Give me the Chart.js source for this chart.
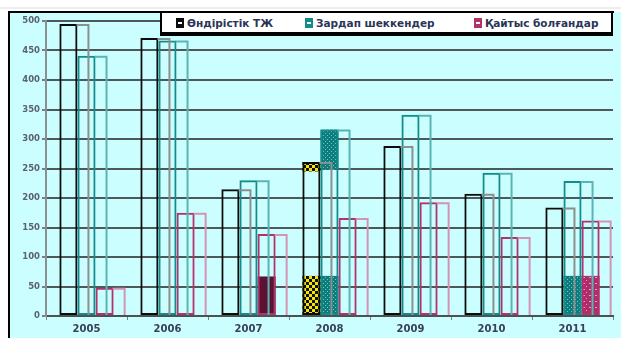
<!DOCTYPE html>
<html>
<head>
<meta charset="utf-8">
<script src="https://cdn.jsdelivr.net/npm/chart.js@4/dist/chart.umd.min.js"></script>
<style>
  html, body { margin: 0; padding: 0; background: #ffffff; }
  #wrap { position: relative; width: 621px; height: 338px; overflow: hidden; }
  canvas { position: absolute; left: 0; top: 0; }
  #legend { position: absolute; left: 160px; top: 11px; width: 449px; height: 19px;
    background: #ffffff; border: 2px solid #000; border-bottom-width: 4px; }
  .item { position: absolute; top: 3px; height: 14px; white-space: nowrap;
    font-family: "DejaVu Sans", sans-serif; font-weight: bold; font-size: 10.5px; line-height: 14px; color: #2a3558; }
  .mark { position: absolute; top: 2px; width: 8px; height: 10px; }
  .mark::after { content: ""; position: absolute; left: 2px; top: 4px; width: 4px; height: 2px; background: #fff; }
</style>
</head>
<body>
<div id="wrap">
  <canvas id="c" width="621" height="338"></canvas>
  <div id="legend"></div>
</div>
<script>
// ---- data ----
const categories = ["2005", "2006", "2007", "2008", "2009", "2010", "2011"];
const seriesNames = ["Өндірістік ТЖ", "Зардап шеккендер", "Қайтыс болғандар"];
const industrial = [495, 471, 215, 261, 288, 207, 184];   // Өндірістік ТЖ
const injured    = [441, 467, 230, 316, 341, 243, 229];   // Зардап шеккендер
const deaths     = [48, 175, 139, 166, 193, 134, 162];    // Қайтыс болғандар
// small filled (patterned) fragments visible in the picture, [from, to]
const fillBlackLow  = [null, null, null, [0, 68], null, null, null];
const fillBlackHigh = [null, null, null, [245, 261], null, null, null];
const fillTealLow   = [null, null, null, [0, 68], null, null, [0, 68]];
const fillTealHigh  = [null, null, null, [248, 316], null, null, null];
const fillPinkLow   = [null, null, [0, 67], null, null, null, [0, 68]];
const yTicks = [0, 50, 100, 150, 200, 250, 300, 350, 400, 450, 500];

// ---- styles ----
const colBlack = "#0c0c0c", colTeal = "#118b8b", colPink = "#b4316c";
const backCols = ["#8a8f8f", "#5cb3b3", "#d393b3"];
const seriesCols = [colBlack, colTeal, colPink];

function makePattern(bg, fg, size, draw) {
  const c = document.createElement("canvas");
  c.width = size; c.height = size;
  const x = c.getContext("2d");
  x.fillStyle = bg; x.fillRect(0, 0, size, size);
  x.fillStyle = fg; draw(x);
  return x.createPattern(c, "repeat");
}
const ctx = document.getElementById("c").getContext("2d");
const patYellow = makePattern("#f4e600", "#111", 6, x => { x.fillRect(0, 0, 3, 3); x.fillRect(3, 3, 3, 3); });
const patTeal = makePattern("#0d7c7c", "#6cc4c4", 4, x => { x.fillRect(1, 1, 1, 1); x.fillRect(3, 3, 1, 1); });
const patPink = makePattern("#b02d6a", "#e7a0c4", 6, x => { x.fillRect(1, 1, 2, 1); x.fillRect(4, 4, 1, 1); });

// ---- legend (HTML, from the series names) ----
const legendX = [14, 143, 312];
const legend = document.getElementById("legend");
seriesNames.forEach((n, i) => {
  const it = document.createElement("div");
  it.className = "item";
  it.style.left = legendX[i] + "px";
  it.innerHTML = '<span class="mark" style="left:0;background:' + seriesCols[i] + '"></span><span style="margin-left:11px">' + n + '</span>';
  legend.appendChild(it);
});

const frame = {
  id: "frame",
  beforeDraw(chart) {
    const c = chart.ctx;
    c.save();
    c.fillStyle = "#ffffff"; c.fillRect(0, 0, 621, 338);
    c.fillStyle = "#ebeeee"; c.fillRect(0, 7, 621, 2);
    c.fillStyle = "#cbffff"; c.fillRect(9, 12, 612, 326);
    c.fillStyle = "#000"; c.fillRect(8, 11, 606, 2); c.fillRect(8, 11, 2, 327);
    c.restore();
  }
};

const depth = {
  id: "depth",
  afterDatasetsDraw(chart) {
    const c = chart.ctx;
    const d = 11;
    c.save();
    c.lineWidth = 2;
    for (let di = 0; di < 3; di++) {
      const meta = chart.getDatasetMeta(di);
      meta.data.forEach(b => {
        const r = b.x + b.width / 2;
        c.strokeStyle = backCols[di];
        c.beginPath();
        c.moveTo(r - 1, b.y + 1);
        c.lineTo(r + d, b.y + 1);
        c.lineTo(r + d, b.base);
        c.stroke();
      });
    }
    c.restore();
  }
};

const common = { borderSkipped: false, stack: null };
new Chart(ctx, {
  type: "bar",
  data: {
    labels: categories,
    datasets: [
      { label: seriesNames[0], data: industrial, stack: "a", backgroundColor: "rgba(0,0,0,0)", borderColor: colBlack, borderWidth: 2, borderSkipped: false },
      { label: seriesNames[1], data: injured, stack: "b", backgroundColor: "rgba(0,0,0,0)", borderColor: colTeal, borderWidth: 2, borderSkipped: false },
      { label: seriesNames[2], data: deaths, stack: "c", backgroundColor: "rgba(0,0,0,0)", borderColor: colPink, borderWidth: 2, borderSkipped: false },
      { label: "f1", data: fillBlackLow, stack: "a", backgroundColor: patYellow, borderWidth: 0 },
      { label: "f2", data: fillBlackHigh, stack: "a", backgroundColor: patYellow, borderWidth: 0 },
      { label: "f3", data: fillTealLow, stack: "b", backgroundColor: patTeal, borderWidth: 0 },
      { label: "f4", data: fillTealHigh, stack: "b", backgroundColor: patTeal, borderWidth: 0 },
      { label: "f5", data: fillPinkLow, stack: "c", backgroundColor: ["#000", "#000", "#5c1233", "#000", "#000", "#000", patPink], borderWidth: 0 }
    ]
  },
  options: {
    responsive: false,
    animation: false,
    devicePixelRatio: 1,
    categoryPercentage: 0.67,
    barPercentage: 1.0,
    layout: { padding: { left: 8, top: 21, right: 8, bottom: 0 } },
    plugins: { legend: { display: false }, tooltip: { enabled: false } },
    scales: {
      x: {
        grid: { display: true, drawOnChartArea: false, drawTicks: true, tickLength: 4, tickColor: "#7a7f80", offset: true, lineWidth: 1 },
        border: { display: true, color: "#4a5252", width: 2 },
        ticks: { color: "#39405a", font: { family: "DejaVu Sans", weight: "bold", size: 10 }, padding: 3 },
        afterFit(s) { s.height = 22; }
      },
      y: {
        stacked: false,
        min: 0, max: 500,
        afterBuildTicks(s) { s.ticks = yTicks.map(v => ({ value: v })); },
        grid: { color: "#4f5858", lineWidth: 2, tickLength: 4, tickColor: "#7a7f80" },
        border: { display: true, color: "#8a9090", width: 2 },
        ticks: { color: "#5a6270", font: { family: "DejaVu Sans", weight: "bold", size: 8.5 }, padding: 2 },
        afterFit(s) { s.width = 38; }
      }
    }
  },
  plugins: [frame, depth]
});
</script>
</body>
</html>
